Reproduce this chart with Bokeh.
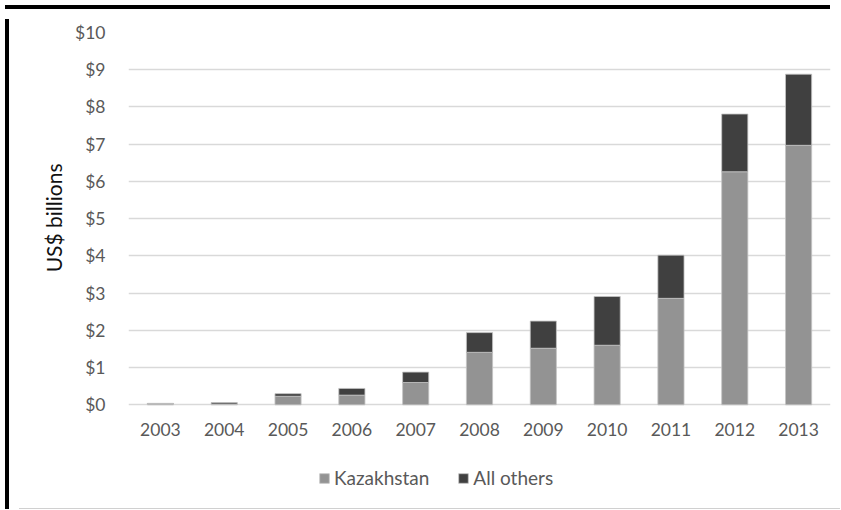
from bokeh.plotting import figure
from bokeh.models import (ColumnDataSource, FactorRange, Range1d, Legend, LegendItem,
                          FixedTicker, Div, Title)
from bokeh.layouts import column, row
from bokeh.embed import file_html
from bokeh.resources import INLINE

years = ["2003", "2004", "2005", "2006", "2007", "2008", "2009", "2010", "2011", "2012", "2013"]
kazakhstan = [0.03, 0.02, 0.23, 0.26, 0.60, 1.41, 1.52, 1.60, 2.86, 6.26, 6.97]
all_others = [0.01, 0.04, 0.07, 0.18, 0.28, 0.53, 0.73, 1.31, 1.16, 1.55, 1.91]
series_names = ["Kazakhstan", "All others"]
y_ticks = [0, 1, 2, 3, 4, 5, 6, 7, 8, 9, 10]
y_tick_labels = ["$0", "$1", "$2", "$3", "$4", "$5", "$6", "$7", "$8", "$9", "$10"]
y_title = "US$ billions"

FONT = "Lato"
TXT = "#595959"

source = ColumnDataSource(dict(year=years, kaz=kazakhstan, oth=all_others))

# the frame reaches below zero so that the legend (drawn in the frame) is not clipped
p = figure(width=821, height=489, x_range=FactorRange(*years), y_range=Range1d(-2.65, 10),
           output_backend="svg", toolbar_location=None,
           min_border_left=114, min_border_right=5, min_border_top=18, min_border_bottom=0)
p.outline_line_color = None

rs = p.vbar_stack(["kaz", "oth"], x="year", width=0.41, source=source,
                  fill_color=["#939393", "#404040"], line_color="#c4c4c4", line_width=0.8)

# axes
p.yaxis.ticker = FixedTicker(ticks=y_ticks)
p.yaxis.major_label_overrides = {t: l for t, l in zip(y_ticks, y_tick_labels)}
p.yaxis.axis_line_color = None
p.yaxis.major_tick_line_color = None
p.yaxis.minor_tick_line_color = None
p.yaxis.major_label_standoff = 17
p.yaxis.major_label_text_font = FONT
p.yaxis.major_label_text_font_size = "17.5px"
p.yaxis.major_label_text_color = TXT

p.xaxis.fixed_location = 0
p.xaxis.axis_line_color = None
p.xaxis.major_tick_line_color = None
p.xaxis.minor_tick_line_color = None
p.xaxis.major_label_standoff = 12
p.xaxis.major_label_text_font = FONT
p.xaxis.major_label_text_font_size = "17.5px"
p.xaxis.major_label_text_color = TXT

p.xgrid.grid_line_color = None
p.ygrid.grid_line_color = "#d9d9d9"
p.ygrid.grid_line_width = 1.5

p.add_layout(Title(text=y_title, align="right", offset=131, standoff=14,
                   text_font=FONT, text_font_size="21px", text_font_style="normal",
                   text_color="#111111"), "left")

legend = Legend(items=[LegendItem(label=series_names[0], renderers=[rs[0]]),
                       LegendItem(label=series_names[1], renderers=[rs[1]])],
                orientation="horizontal", location=(190, 14), margin=0, padding=0,
                glyph_width=12, glyph_height=12, label_standoff=4, spacing=28,
                label_text_font=FONT, label_text_font_size="19px",
                label_text_color=TXT, border_line_color=None, background_fill_alpha=0)
p.add_layout(legend, "center")

top_bar = Div(width=825, height=4, styles={"background-color": "black"})
left_bar = Div(width=4, height=490, styles={"background-color": "black"})
bottom_line = Div(width=821, height=1, styles={"background-color": "#d0d0d0"})

layout = column(top_bar, row(left_bar, column(p, bottom_line)))

open("out.html", "w").write(file_html(layout, INLINE))
